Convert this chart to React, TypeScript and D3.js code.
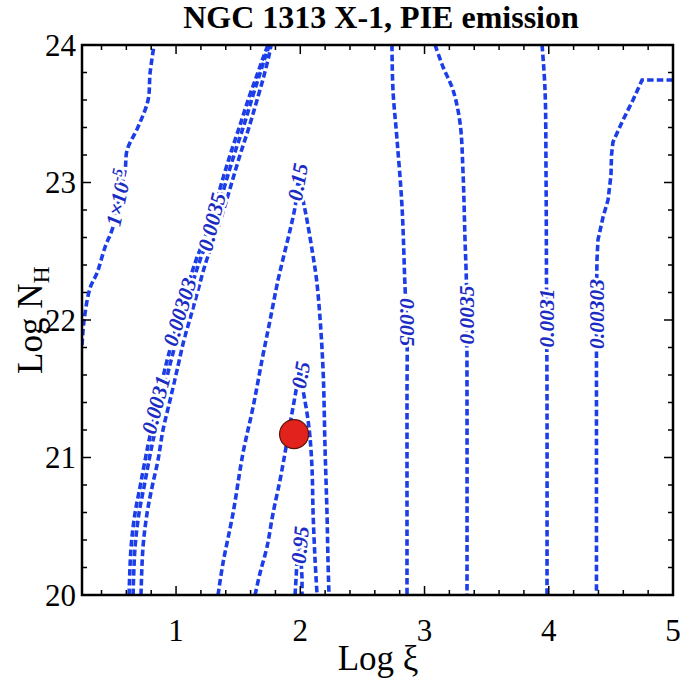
import React from "react";
import * as d3 from "d3";

const W = 682;
const H = 678;

const titleText = "NGC 1313 X-1, PIE emission";
const xDomain: [number, number] = [0.243, 5];
const yDomain: [number, number] = [20, 24];
const xTickValues = [1, 2, 3, 4, 5];
const yTickValues = [20, 21, 22, 23, 24];

// contour lines, [log xi, log NH]
const c1e5 = [[0.2435, 21.818], [0.26, 22.0], [0.308, 22.233], [0.364, 22.342], [0.429, 22.531], [0.493, 22.676], [0.541, 22.887], [0.59, 23.091], [0.606, 23.236], [0.694, 23.404], [0.775, 23.6], [0.791, 23.796], [0.823, 24.0]];
const cL0031 = [[0.622, 20.0], [0.638, 20.349], [0.67, 20.596], [0.71, 20.785], [0.751, 20.982], [0.783, 21.127], [0.839, 21.345], [0.895, 21.585], [0.935, 21.731], [0.984, 21.891], [1.04, 22.073], [1.097, 22.255], [1.161, 22.436], [1.233, 22.604], [1.298, 22.785], [1.362, 22.982], [1.435, 23.2], [1.515, 23.418], [1.588, 23.622], [1.652, 23.782], [1.7, 23.905], [1.74, 24.0]];
const cL0035 = [[0.654, 20.0], [0.67, 20.349], [0.702, 20.596], [0.742, 20.785], [0.783, 20.982], [0.815, 21.127], [0.871, 21.345], [0.927, 21.585], [0.967, 21.731], [1.016, 21.891], [1.072, 22.073], [1.129, 22.255], [1.193, 22.436], [1.265, 22.604], [1.33, 22.785], [1.394, 22.982], [1.467, 23.2], [1.547, 23.418], [1.615, 23.622], [1.672, 23.782], [1.715, 23.905], [1.752, 24.0]];
const cL00303 = [[0.718, 20.0], [0.734, 20.349], [0.767, 20.596], [0.807, 20.785], [0.855, 20.982], [0.895, 21.2], [0.952, 21.418], [1.008, 21.636], [1.064, 21.855], [1.121, 22.036], [1.177, 22.218], [1.241, 22.422], [1.314, 22.604], [1.378, 22.785], [1.443, 22.982], [1.515, 23.2], [1.588, 23.404], [1.652, 23.6], [1.709, 23.782], [1.749, 23.927], [1.765, 24.0]];
const c015 = [[1.338, 20.0], [1.378, 20.233], [1.459, 20.596], [1.539, 21.033], [1.62, 21.367], [1.692, 21.709], [1.757, 22.0], [1.821, 22.291], [1.869, 22.473], [1.918, 22.655], [1.958, 22.822], [1.99, 23.033], [2.022, 22.873], [2.054, 22.727], [2.095, 22.509], [2.13, 22.3], [2.16, 22.0], [2.185, 21.6], [2.199, 21.076], [2.215, 20.596], [2.223, 20.255], [2.231, 20.0]];
const c05 = [[1.636, 20.0], [1.676, 20.16], [1.732, 20.349], [1.781, 20.596], [1.837, 20.836], [1.877, 21.033], [1.909, 21.2], [1.942, 21.367], [1.974, 21.527], [1.998, 21.636], [2.022, 21.491], [2.054, 21.324], [2.078, 21.149], [2.095, 20.909], [2.103, 20.596], [2.119, 20.255], [2.135, 20.0]];
const c095 = [[1.958, 20.0], [1.966, 20.124], [1.974, 20.255], [1.99, 20.4], [2.006, 20.255], [2.014, 20.124], [2.014, 20.0]];
const cR005 = [[2.738, 24.0], [2.746, 23.673], [2.779, 23.309], [2.819, 22.822], [2.843, 22.24], [2.859, 21.927], [2.859, 21.418], [2.859, 20.691], [2.859, 20.0]];
const cR0035 = [[3.085, 24.0], [3.149, 23.84], [3.229, 23.673], [3.286, 23.433], [3.31, 23.069], [3.326, 22.582], [3.338, 22.24], [3.342, 21.418], [3.342, 20.0]];
const cR0031 = [[3.946, 24.0], [3.97, 23.673], [3.978, 23.069], [3.982, 22.218], [3.986, 21.418], [3.986, 20.0]];
const cR00303 = [[5.0, 23.745], [4.751, 23.745], [4.678, 23.6], [4.598, 23.455], [4.517, 23.295], [4.505, 23.2], [4.501, 23.055], [4.477, 22.873], [4.437, 22.749], [4.396, 22.582], [4.388, 22.436], [4.384, 22.145], [4.384, 21.418], [4.384, 20.0]];

const contourLines = [c1e5, cL0031, cL0035, cL00303, c015, c05, c095, cR005, cR0035, cR0031, cR00303];
const contourSmooth = [true, true, true, true, true, true, false, true, true, true, false];

// contour labels: text, position [log xi, log NH], rotation
const labelTexts = ["1×10", "0.0031", "0.00303", "0.0035", "0.15", "0.5", "0.95", "0.005", "0.0035", "0.0031", "0.00303"];
const labelSups = ["-5", "", "", "", "", "", "", "", "", "", ""];
const labelPos = [[0.541, 22.887], [0.839, 21.382], [1.032, 22.058], [1.29, 22.713], [1.982, 23.004], [2.006, 21.6], [2.0, 20.364], [2.859, 21.985], [3.342, 22.036], [3.982, 22.015], [4.388, 22.044]];
const labelRot = [-78, -75, -73, -76, -80, -80, -85, 90, -90, -90, -90];

const sourcePoint = [1.95, 21.17];

export default function App() {
  const left = 82, right = 673, top = 45, bottom = 595;
  const x = d3.scaleLinear().domain(xDomain).range([left, right]);
  const y = d3.scaleLinear().domain(yDomain).range([bottom, top]);
  const smoothLine = d3.line<number[]>().x((d) => x(d[0])).y((d) => y(d[1])).curve(d3.curveCatmullRom.alpha(0.5));
  const straightLine = d3.line<number[]>().x((d) => x(d[0])).y((d) => y(d[1]));

  const minorX = d3.range(2, 26).map((i) => i / 5).filter((v) => Math.abs(v - Math.round(v)) > 1e-6);
  const minorY = d3.range(100, 121).map((i) => i / 5).filter((v) => Math.abs(v - Math.round(v)) > 1e-6);

  const font = "'Liberation Serif', 'Times New Roman', serif";
  const lineColor = "#1c3ee8";
  const labelColor = "#1a2cc4";
  const majorLen = 9, minorLen = 5;

  return (
    <svg width={W} height={H} style={{ position: "absolute", left: 0, top: 0, background: "#fff" }}>
      <defs>
        <clipPath id="plotClip">
          <rect x={left} y={top} width={right - left} height={bottom - top} />
        </clipPath>
      </defs>
      <rect x={0} y={0} width={W} height={H} fill="#fff" />
      <text x={381} y={28} textAnchor="middle" fontFamily={font} fontWeight="bold" fontSize={32}>{titleText}</text>

      <g clipPath="url(#plotClip)">
        {contourLines.map((pts, i) => (
          <path key={i} d={(contourSmooth[i] ? smoothLine(pts) : straightLine(pts)) || ""} fill="none" stroke={lineColor} strokeWidth={3.6} strokeDasharray="6.5,3.2" />
        ))}
      </g>

      {labelTexts.map((t, i) => (
        <text key={i}
          transform={`translate(${x(labelPos[i][0])},${y(labelPos[i][1])}) rotate(${labelRot[i]})`}
          textAnchor="middle" dominantBaseline="central"
          fontFamily={font} fontStyle="italic" fontWeight="bold" fontSize={21.5}
          fill={labelColor} stroke="#fff" strokeWidth={5} paintOrder="stroke" strokeLinejoin="round">
          {t}
          {labelSups[i] ? <tspan dy={-7} fontSize={15}>{labelSups[i]}</tspan> : null}
        </text>
      ))}

      <circle cx={x(sourcePoint[0])} cy={y(sourcePoint[1])} r={14.5} fill="#e2231d" stroke="#5b1208" strokeWidth={1.2} />

      {/* ticks */}
      <g stroke="#000" strokeWidth={1.5}>
        {xTickValues.map((v) => (
          <g key={"xt" + v}>
            <line x1={x(v)} x2={x(v)} y1={bottom} y2={bottom - majorLen} />
            <line x1={x(v)} x2={x(v)} y1={top} y2={top + majorLen} />
          </g>
        ))}
        {minorX.map((v) => (
          <g key={"xm" + v}>
            <line x1={x(v)} x2={x(v)} y1={bottom} y2={bottom - minorLen} />
            <line x1={x(v)} x2={x(v)} y1={top} y2={top + minorLen} />
          </g>
        ))}
        {yTickValues.map((v) => (
          <g key={"yt" + v}>
            <line x1={left} x2={left + majorLen} y1={y(v)} y2={y(v)} />
            <line x1={right} x2={right - majorLen} y1={y(v)} y2={y(v)} />
          </g>
        ))}
        {minorY.map((v) => (
          <g key={"ym" + v}>
            <line x1={left} x2={left + minorLen} y1={y(v)} y2={y(v)} />
            <line x1={right} x2={right - minorLen} y1={y(v)} y2={y(v)} />
          </g>
        ))}
      </g>
      <rect x={left} y={top} width={right - left} height={bottom - top} fill="none" stroke="#000" strokeWidth={2.5} />

      {xTickValues.map((v) => (
        <text key={"xl" + v} x={x(v)} y={641} textAnchor="middle" fontFamily={font} fontSize={31}>{v}</text>
      ))}
      {yTickValues.map((v) => (
        <text key={"yl" + v} x={76} y={y(v)} textAnchor="end" dominantBaseline="central" fontFamily={font} fontSize={31}>{v}</text>
      ))}

      <text x={378} y={670} textAnchor="middle" fontFamily={font} fontSize={35}>Log ξ</text>
      <text transform={`translate(42,${y(22.0)}) rotate(-90)`} textAnchor="middle" fontFamily={font} fontSize={35}>
        Log N<tspan dy={7} fontSize={24}>H</tspan>
      </text>
    </svg>
  );
}
